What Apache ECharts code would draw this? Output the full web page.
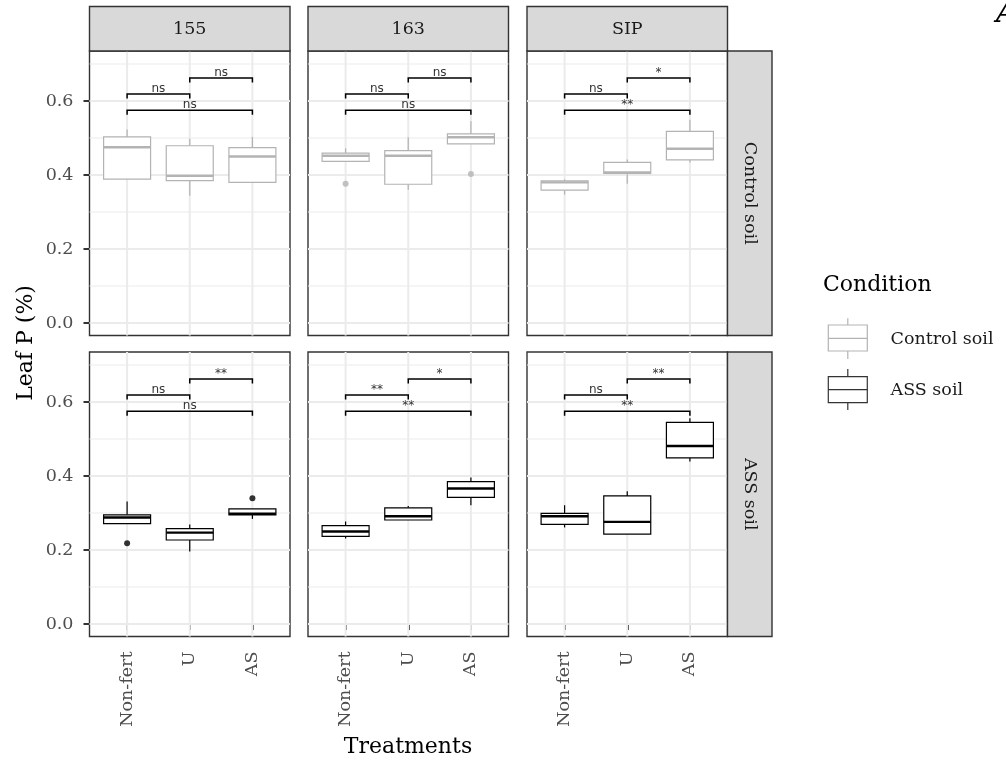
<!DOCTYPE html>
<html>
<head>
<meta charset="utf-8">
<script src="https://cdn.jsdelivr.net/npm/echarts@6/dist/echarts.min.js"></script>
<style>
html,body{margin:0;padding:0;background:#fff;}
#chart{width:1006px;height:762px;}
</style>
</head>
<body>
<div id="chart"></div>
<script>
// ---------------- data ----------------
const treatments = ['Non-fert', 'U', 'AS'];
const sites = ['155', '163', 'SIP'];
const conditions = ['Control soil', 'ASS soil'];
const yTicks = [0, 0.2, 0.4, 0.6];
const yMinorTicks = [0.1, 0.3, 0.5, 0.7];

// box stats per treatment: [lower whisker, Q1, median, Q3, upper whisker]
const control155 = [[0.389, 0.389, 0.475, 0.503, 0.523], [0.344, 0.385, 0.398, 0.479, 0.498], [0.380, 0.380, 0.450, 0.474, 0.503]];
const control163 = [[0.437, 0.437, 0.452, 0.459, 0.472], [0.360, 0.375, 0.452, 0.466, 0.502], [0.484, 0.484, 0.502, 0.511, 0.545]];
const controlSIP = [[0.347, 0.359, 0.380, 0.384, 0.388], [0.376, 0.404, 0.407, 0.434, 0.442], [0.434, 0.441, 0.471, 0.518, 0.549]];
const ass155 = [[0.271, 0.271, 0.288, 0.295, 0.331], [0.196, 0.227, 0.247, 0.258, 0.269], [0.284, 0.295, 0.298, 0.311, 0.311]];
const ass163 = [[0.231, 0.237, 0.250, 0.266, 0.277], [0.281, 0.281, 0.291, 0.314, 0.319], [0.321, 0.342, 0.366, 0.385, 0.396]];
const assSIP = [[0.261, 0.269, 0.291, 0.299, 0.321], [0.243, 0.243, 0.276, 0.346, 0.359], [0.439, 0.449, 0.481, 0.545, 0.556]];

// outliers: [treatment index (1..3), value]
const outControl155 = [];
const outControl163 = [[1, 0.376], [3, 0.403]];
const outControlSIP = [];
const outAss155 = [[1, 0.218], [3, 0.340]];
const outAss163 = [];
const outAssSIP = [];

// significance brackets: [from, to, height]; labels per panel
const bracketPairs = [[1, 2, 0.619], [2, 3, 0.662], [1, 3, 0.575]];
const sigControl155 = ['ns', 'ns', 'ns'];
const sigControl163 = ['ns', 'ns', 'ns'];
const sigControlSIP = ['ns', '*', '**'];
const sigAss155 = ['ns', '**', 'ns'];
const sigAss163 = ['**', '*', '**'];
const sigAssSIP = ['ns', '**', '**'];

// ---------------- layout ----------------
const panels = [
  {row: 0, col: 0, box: control155, out: outControl155, sig: sigControl155},
  {row: 0, col: 1, box: control163, out: outControl163, sig: sigControl163},
  {row: 0, col: 2, box: controlSIP, out: outControlSIP, sig: sigControlSIP},
  {row: 1, col: 0, box: ass155, out: outAss155, sig: sigAss155},
  {row: 1, col: 1, box: ass163, out: outAss163, sig: sigAss163},
  {row: 1, col: 2, box: assSIP, out: outAssSIP, sig: sigAssSIP}
];
const colLeft = [89.5, 308, 527];
const panelW = 200.5;
const rowTop = [51, 352];
const panelH = 284.5;
const Y_MIN = -0.0338, Y_MAX = 0.7351;
const SERIF = 'DejaVu Serif';
const rowColor = ['#b3b3b3', '#000000'];
const LBL = 17.5;

const grids = [], xAxes = [], yAxes = [], series = [];
panels.forEach((p, i) => {
  grids.push({left: colLeft[p.col], top: rowTop[p.row], width: panelW, height: panelH,
    show: true, borderColor: '#333333', borderWidth: 1.4, backgroundColor: '#ffffff', containLabel: false});
  const bottom = p.row === 1, left = p.col === 0;
  xAxes.push({type: 'value', gridIndex: i, min: 0.4, max: 3.6,
    axisLine: {show: false}, splitLine: {show: false},
    axisTick: {show: bottom, length: 6, lineStyle: {color: '#333333', width: 2}, customValues: [1, 2, 3]},
    axisLabel: {show: bottom, customValues: [1, 2, 3], rotate: 90, margin: 15,
      fontFamily: SERIF, fontSize: LBL, color: '#4d4d4d',
      formatter: v => treatments[Math.round(v) - 1]}
  });
  yAxes.push({type: 'value', gridIndex: i, min: Y_MIN, max: Y_MAX,
    axisLine: {show: false}, splitLine: {show: false},
    axisTick: {show: left, length: 6, lineStyle: {color: '#333333', width: 2}, customValues: yTicks},
    axisLabel: {show: left, customValues: yTicks, margin: 16,
      fontFamily: SERIF, fontSize: LBL, color: '#4d4d4d',
      formatter: v => v.toFixed(1)}
  });

  // grid lines
  series.push({type: 'custom', xAxisIndex: i, yAxisIndex: i, silent: true, z: 1,
    data: [[0]],
    renderItem: (params, api) => {
      const ch = [];
      const x0 = api.coord([0.4, 0])[0], x1 = api.coord([3.6, 0])[0];
      const yTop = api.coord([1, Y_MAX])[1], yBot = api.coord([1, Y_MIN])[1];
      yMinorTicks.forEach(v => { const y = api.coord([1, v])[1];
        ch.push({type: 'line', shape: {x1: x0, y1: y, x2: x1, y2: y}, style: {stroke: '#ebebeb', lineWidth: 1}}); });
      yTicks.forEach(v => { const y = api.coord([1, v])[1];
        ch.push({type: 'line', shape: {x1: x0, y1: y, x2: x1, y2: y}, style: {stroke: '#ebebeb', lineWidth: 2}}); });
      [1, 2, 3].forEach(v => { const x = api.coord([v, 0])[0];
        ch.push({type: 'line', shape: {x1: x, y1: yTop, x2: x, y2: yBot}, style: {stroke: '#ebebeb', lineWidth: 2}}); });
      return {type: 'group', children: ch};
    }
  });

  // boxes
  const col = rowColor[p.row];
  series.push({type: 'custom', xAxisIndex: i, yAxisIndex: i, silent: true, z: 3,
    name: conditions[p.row],
    data: p.box.map((b, k) => [k + 1].concat(b)),
    encode: {x: 0, y: [1, 2, 3, 4, 5]},
    renderItem: (params, api) => {
      const xv = api.value(0);
      const half = 0.375;
      const pMin = api.coord([xv, api.value(1)]);
      const pQ1 = api.coord([xv, api.value(2)]);
      const pMed = api.coord([xv, api.value(3)]);
      const pQ3 = api.coord([xv, api.value(4)]);
      const pMax = api.coord([xv, api.value(5)]);
      const xl = api.coord([xv - half, 0])[0], xr = api.coord([xv + half, 0])[0];
      const st = {stroke: col, lineWidth: 1.2, fill: null};
      return {type: 'group', children: [
        {type: 'line', shape: {x1: pQ3[0], y1: pQ3[1], x2: pMax[0], y2: pMax[1]}, style: st},
        {type: 'line', shape: {x1: pQ1[0], y1: pQ1[1], x2: pMin[0], y2: pMin[1]}, style: st},
        {type: 'rect', shape: {x: xl, y: pQ3[1], width: xr - xl, height: pQ1[1] - pQ3[1]},
          style: {stroke: col, lineWidth: 1.2, fill: '#ffffff'}},
        {type: 'line', shape: {x1: xl, y1: pMed[1], x2: xr, y2: pMed[1]}, style: {stroke: col, lineWidth: 2.4}}
      ]};
    }
  });

  // outliers
  series.push({type: 'scatter', xAxisIndex: i, yAxisIndex: i, silent: true, z: 4,
    data: p.out, symbol: 'circle', symbolSize: 6,
    itemStyle: {color: col, borderWidth: 0}});

  // significance brackets
  series.push({type: 'custom', xAxisIndex: i, yAxisIndex: i, silent: true, z: 5,
    data: bracketPairs.map((b, k) => [b[0], b[1], b[2], p.sig[k]]),
    renderItem: (params, api) => {
      const a = api.value(0), b = api.value(1), h = api.value(2);
      const lab = p.sig[params.dataIndex];
      const pa = api.coord([a, h]), pb = api.coord([b, h]);
      const pa2 = api.coord([a, h - 0.012]), pb2 = api.coord([b, h - 0.012]);
      return {type: 'group', children: [
        {type: 'polyline', shape: {points: [pa2, pa, pb, pb2]},
          style: {stroke: '#000000', lineWidth: 1.5, fill: null}},
        {type: 'text', x: (pa[0] + pb[0]) / 2, y: pa[1] + 1,
          style: {text: lab, fill: '#333333', font: '12px "DejaVu Sans"',
            align: 'center', verticalAlign: 'bottom'}}
      ]};
    }
  });
});

// ---------------- strips, titles, legend ----------------
const graphic = [];
sites.forEach((s, c) => {
  graphic.push({type: 'rect', shape: {x: colLeft[c], y: 6.5, width: panelW, height: 44.5},
    style: {fill: '#d9d9d9', stroke: '#333333', lineWidth: 1.4}, z: 10});
  graphic.push({type: 'text', x: colLeft[c] + panelW / 2, y: 29,
    style: {text: s, font: LBL + 'px "DejaVu Serif"', fill: '#1a1a1a', align: 'center', verticalAlign: 'middle'}, z: 11});
});
conditions.forEach((c, r) => {
  graphic.push({type: 'rect', shape: {x: colLeft[2] + panelW, y: rowTop[r], width: 44.5, height: panelH},
    style: {fill: '#d9d9d9', stroke: '#333333', lineWidth: 1.4}, z: 10});
  graphic.push({type: 'text', x: colLeft[2] + panelW + 22.5, y: rowTop[r] + panelH / 2, rotation: -Math.PI / 2,
    style: {text: c, font: LBL + 'px "DejaVu Serif"', fill: '#1a1a1a', align: 'center', verticalAlign: 'middle'}, z: 11});
});
graphic.push({type: 'text', x: 26, y: 343, rotation: Math.PI / 2,
  style: {text: 'Leaf P (%)', font: '22px "DejaVu Serif"', fill: '#000000', align: 'center', verticalAlign: 'middle'}});
graphic.push({type: 'text', x: 408, y: 747,
  style: {text: 'Treatments', font: '22px "DejaVu Serif"', fill: '#000000', align: 'center', verticalAlign: 'middle'}});
graphic.push({type: 'text', x: 996, y: 14,
  style: {text: 'A', font: 'italic bold 30px "DejaVu Serif"', fill: '#000000', align: 'left', verticalAlign: 'middle'}});
// legend
graphic.push({type: 'text', x: 823, y: 285,
  style: {text: 'Condition', font: '22px "DejaVu Serif"', fill: '#000000', align: 'left', verticalAlign: 'middle'}});
const legendKeys = [{y0: 318.3, q3: 325, med: 338.3, q1: 351, y1: 359, label: 339},
                    {y0: 369, q3: 376.7, med: 389.7, q1: 402.7, y1: 410, label: 390}];
legendKeys.forEach((k, r) => {
  const col = rowColor[r] === '#000000' ? '#333333' : rowColor[r];
  const xl = 828.3, xr = 867.3, xm = 847.8;
  graphic.push({type: 'line', shape: {x1: xm, y1: k.y0, x2: xm, y2: k.y1}, style: {stroke: col, lineWidth: 1.2}});
  graphic.push({type: 'rect', shape: {x: xl, y: k.q3, width: xr - xl, height: k.q1 - k.q3},
    style: {stroke: col, lineWidth: 1.2, fill: '#ffffff'}});
  graphic.push({type: 'line', shape: {x1: xl, y1: k.med, x2: xr, y2: k.med}, style: {stroke: col, lineWidth: 1.2}});
  graphic.push({type: 'text', x: 890.5, y: k.label,
    style: {text: conditions[r], font: LBL + 'px "DejaVu Serif"', fill: '#1a1a1a', align: 'left', verticalAlign: 'middle'}});
});

const chart = echarts.init(document.getElementById('chart'), null, {renderer: 'canvas'});
chart.setOption({
  animation: false,
  backgroundColor: '#ffffff',
  grid: grids,
  xAxis: xAxes,
  yAxis: yAxes,
  series: series,
  graphic: graphic
});
</script>
</body>
</html>
